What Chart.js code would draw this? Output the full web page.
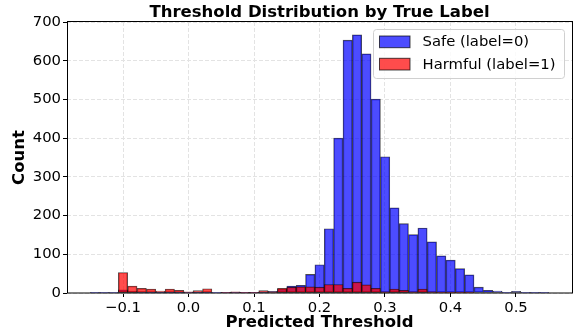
<!DOCTYPE html>
<html>
<head>
<meta charset="utf-8">
<script src="https://cdn.jsdelivr.net/npm/chart.js@4.4.1/dist/chart.umd.min.js"></script>
<style>
  html, body { margin: 0; padding: 0; background: #fff; }
  canvas { display: block; }
</style>
</head>
<body>
<canvas id="thresholdChart" width="573" height="335"></canvas>
<script>
// histogram bins (centres of the 50 shared bins)
const binCenters = [
    -0.1429, -0.1286, -0.1143, -0.1000, -0.0857, -0.0714, -0.0571, -0.0428, -0.0285, -0.0143,
     0.0000,  0.0143,  0.0286,  0.0429,  0.0572,  0.0715,  0.0858,  0.1001,  0.1144,  0.1287,
     0.1429,  0.1572,  0.1715,  0.1858,  0.2001,  0.2144,  0.2287,  0.2430,  0.2573,  0.2716,
     0.2859,  0.3002,  0.3144,  0.3287,  0.3430,  0.3573,  0.3716,  0.3859,  0.4002,  0.4145,
     0.4288,  0.4431,  0.4574,  0.4717,  0.4859,  0.5002,  0.5145,  0.5288,  0.5431,  0.5574
];
const safeCounts = [
    1, 1, 1, 8, 5, 3, 2, 1, 2, 1,
    1, 2, 1, 1, 1, 1, 2, 2, 3, 4,
    10, 18, 20, 48, 73, 166, 400, 653, 667, 618,
    501, 352, 220, 179, 151, 168, 132, 96, 85, 63,
    47, 15, 7, 5, 1, 4, 1, 1, 1, 0
];
const harmfulCounts = [
    0, 0, 0, 53, 18, 12, 10, 5, 10, 7,
    3, 6, 11, 0, 1, 3, 1, 2, 6, 3,
    12, 15, 16, 16, 15, 22, 22, 12, 28, 21,
    12, 3, 10, 7, 3, 10, 3, 2, 1, 1,
    1, 0, 0, 0, 0, 0, 0, 0, 0, 0
];
const seriesLabels = ['Safe (label=0)', 'Harmful (label=1)'];
const xTicks = [-0.1, 0.0, 0.1, 0.2, 0.3, 0.4, 0.5];
const yTicks = [0, 100, 200, 300, 400, 500, 600, 700];

const FONT = "'DejaVu Sans', sans-serif";
const TICK_FONT = { family: FONT, size: 14.8 };
const LABEL_FONT = { family: FONT, size: 16.5, weight: 'bold' };

function toPoints(counts) {
    return binCenters.map((x, i) => ({ x: x, y: counts[i] }));
}

function formatTick(v) {
    const s = Math.abs(v).toFixed(1);
    return v < -1e-9 ? '\u2212' + s : s;
}

// title, spines and a matplotlib-like legend box
const decorPlugin = {
    id: 'decor',
    afterDatasetsDraw(chart) {
        const { ctx, chartArea: a } = chart;
        ctx.save();

        ctx.strokeStyle = '#000';
        ctx.lineWidth = 1;
        ctx.strokeRect(a.left + 0.5, a.top - 0.5, a.right - a.left, a.bottom - a.top + 0.5);

        ctx.fillStyle = '#000';
        ctx.font = 'bold 16.5px ' + FONT;
        ctx.textAlign = 'center';
        ctx.textBaseline = 'alphabetic';
        ctx.fillText('Threshold Distribution by True Label', (a.left + a.right) / 2, 16.5);

        const boxW = 191, boxH = 49;
        const bx = a.right - 7.5 - boxW, by = a.top + 7.5;
        ctx.beginPath();
        ctx.roundRect(bx, by, boxW, boxH, 3);
        ctx.fillStyle = 'rgba(255,255,255,0.8)';
        ctx.fill();
        ctx.strokeStyle = '#d0d0d0';
        ctx.stroke();

        ctx.font = '14.8px ' + FONT;
        ctx.textAlign = 'left';
        ctx.textBaseline = 'middle';
        chart.data.datasets.forEach((ds, i) => {
            const sy = by + 6.5 + i * 22.3;
            ctx.fillStyle = ds.backgroundColor;
            ctx.fillRect(bx + 6, sy, 30.5, 11.7);
            ctx.strokeStyle = ds.borderColor;
            ctx.strokeRect(bx + 6, sy, 30.5, 11.7);
            ctx.fillStyle = '#000';
            ctx.fillText(ds.label, bx + 49, sy + 6.5);
        });
        ctx.restore();
    }
};

const ctx = document.getElementById('thresholdChart').getContext('2d');
new Chart(ctx, {
    type: 'bar',
    data: {
        datasets: [
            {
                label: seriesLabels[0],
                data: toPoints(safeCounts),
                backgroundColor: 'rgba(0,0,255,0.7)',
                borderColor: 'rgba(0,0,0,0.7)',
                borderWidth: 0.8,
                borderSkipped: false,
                order: 2
            },
            {
                label: seriesLabels[1],
                data: toPoints(harmfulCounts),
                backgroundColor: 'rgba(255,0,0,0.7)',
                borderColor: 'rgba(0,0,0,0.7)',
                borderWidth: 0.8,
                borderSkipped: false,
                order: 1
            }
        ]
    },
    options: {
        responsive: false,
        animation: false,
        devicePixelRatio: 1,
        grouped: false,
        barPercentage: 1,
        categoryPercentage: 1,
        layout: { padding: { top: 22, right: 1, left: 0, bottom: 0 } },
        plugins: {
            legend: { display: false },
            title: { display: false },
            tooltip: { enabled: false }
        },
        scales: {
            x: {
                type: 'linear',
                min: -0.1855,
                max: 0.5855,
                offset: false,
                afterFit: s => { s.height = 42; },
                afterBuildTicks: s => { s.ticks = xTicks.map(v => ({ value: v })); },
                ticks: {
                    callback: formatTick,
                    font: TICK_FONT,
                    color: '#000',
                    padding: 2,
                    maxRotation: 0,
                    autoSkip: false
                },
                grid: {
                    offset: false,
                    color: '#e3e3e3',
                    lineWidth: 1,
                    tickColor: '#000',
                    tickLength: 4,
                    tickBorderDash: []
                },
                border: { display: false, dash: [4, 2] },
                title: {
                    display: true,
                    text: 'Predicted Threshold',
                    font: LABEL_FONT,
                    color: '#000',
                    padding: { top: 0, bottom: 2 }
                }
            },
            y: {
                min: 0,
                max: 700,
                afterFit: s => { s.width = 67; },
                afterBuildTicks: s => { s.ticks = yTicks.map(v => ({ value: v })); },
                ticks: {
                    font: TICK_FONT,
                    color: '#000',
                    padding: 2
                },
                grid: {
                    color: '#e3e3e3',
                    lineWidth: 1,
                    tickColor: '#000',
                    tickLength: 4,
                    tickBorderDash: []
                },
                border: { display: false, dash: [4, 2] },
                title: {
                    display: true,
                    text: 'Count',
                    font: LABEL_FONT,
                    color: '#000',
                    padding: { top: 10, bottom: 0 }
                }
            }
        }
    },
    plugins: [decorPlugin]
});
</script>
</body>
</html>
